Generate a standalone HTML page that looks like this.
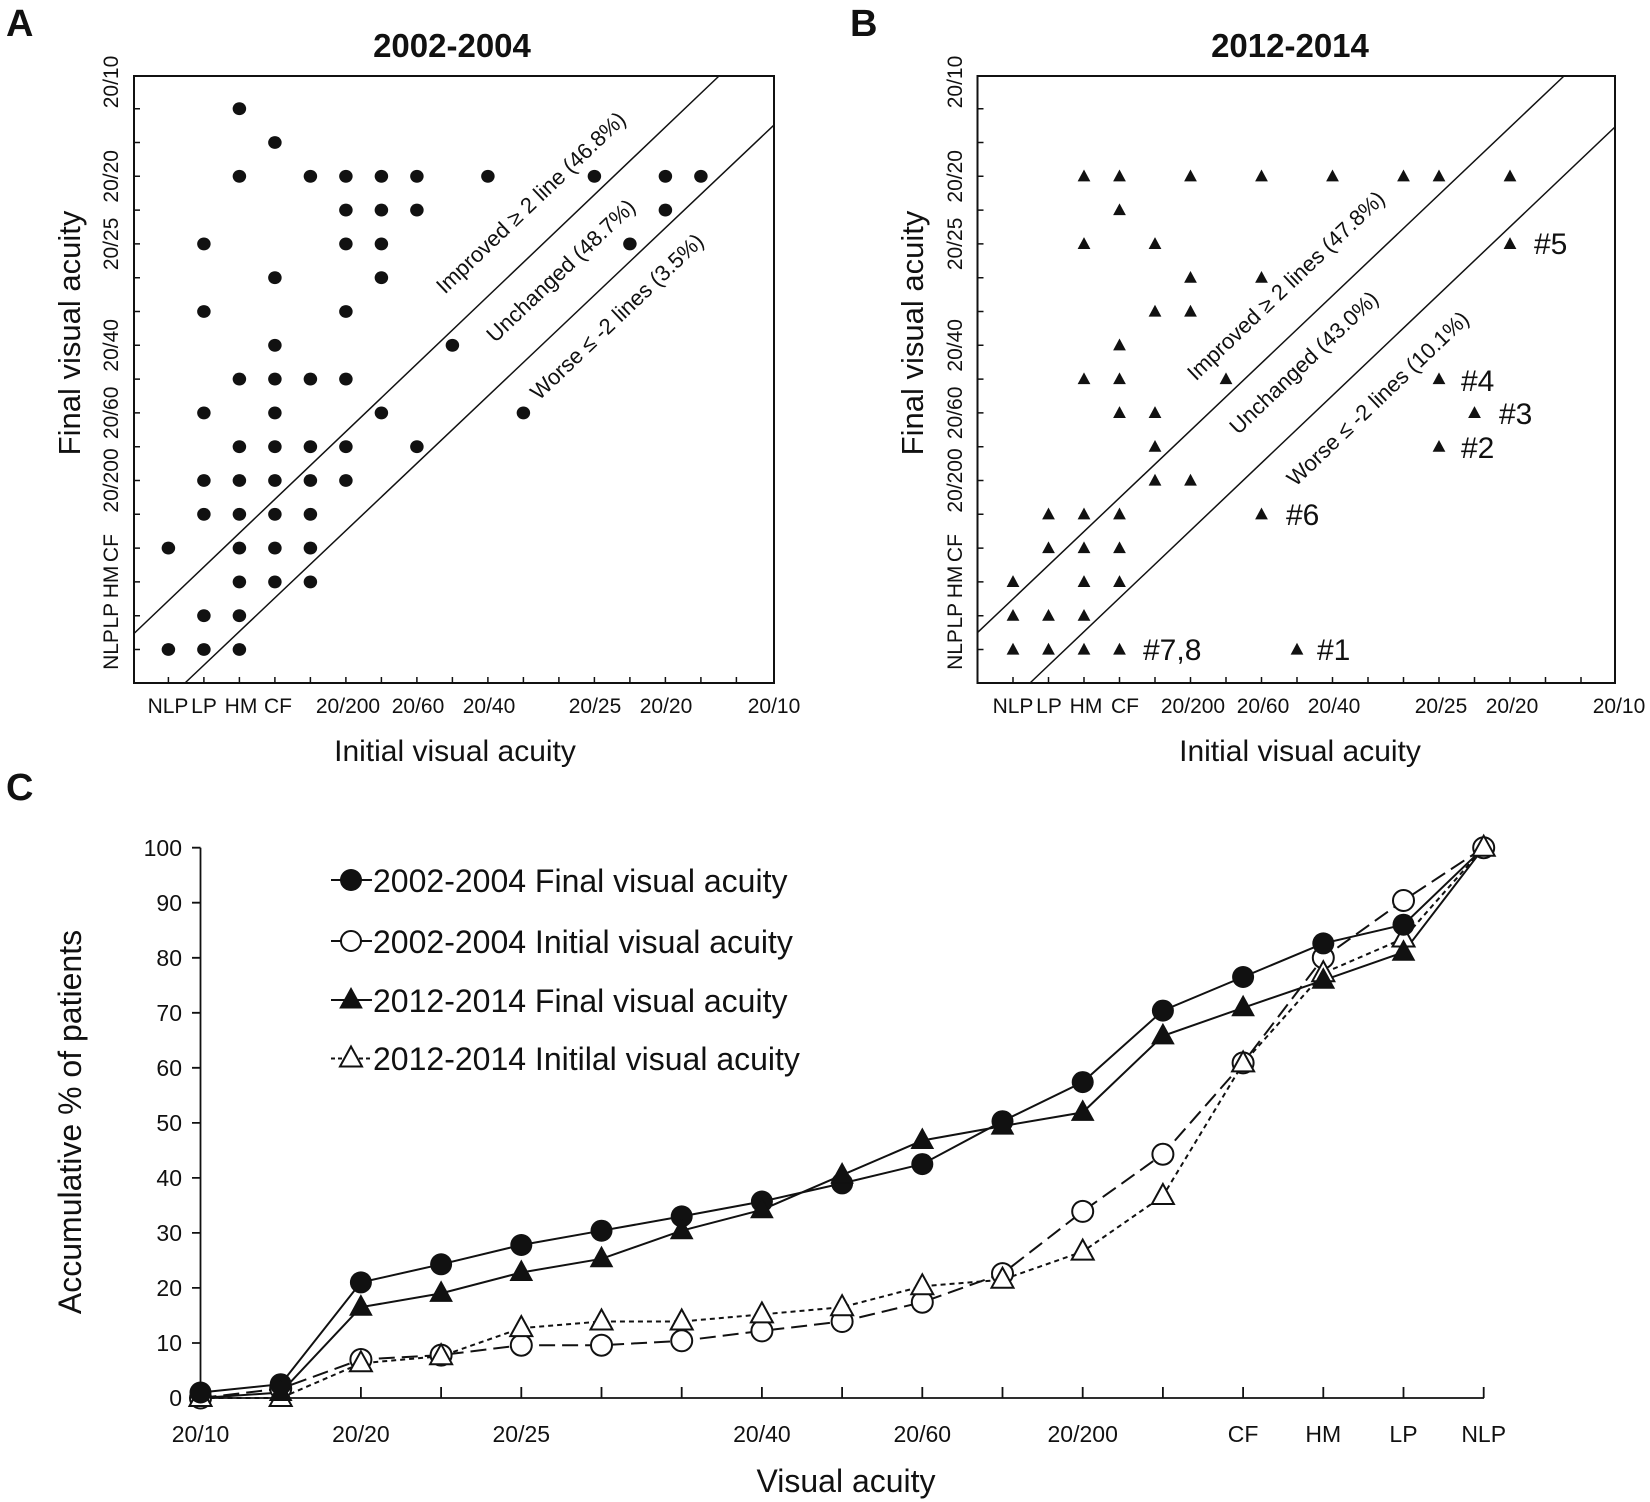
<!DOCTYPE html>
<html><head><meta charset="utf-8"><style>
html,body{margin:0;padding:0;background:#fff}
svg{display:block}
text{font-family:"Liberation Sans",Arial,sans-serif;fill:#111}
</style></head><body>
<svg width="1650" height="1502" viewBox="0 0 1650 1502" xmlns="http://www.w3.org/2000/svg">
<defs>
<polygon id="bt" points="0,0.2 0.18,-0.15 -0.18,-0.15" fill="#111"/>
<polygon id="CT" points="0,-12 11,8 -11,8"/>
</defs>

<!-- ===== Panel A ===== -->
<text x="6" y="36" font-size="38" font-weight="bold">A</text>
<text x="452" y="57" font-size="33" font-weight="bold" text-anchor="middle">2002-2004</text>
<rect x="134" y="76" width="640" height="607" fill="none" stroke="#111" stroke-width="2"/>
<g stroke="#111" stroke-width="1.5">
<path d="M134,649.5h6M134,615.7h6M134,581.9h6M134,548.1h6M134,514.3h6M134,480.5h6M134,446.7h6M134,412.9h6M134,379.1h6M134,345.3h6M134,311.5h6M134,277.7h6M134,243.9h6M134,210.1h6M134,176.3h6M134,142.5h6M134,108.7h6"/>
<path d="M168.4,683v-6M203.9,683v-6M239.4,683v-6M274.9,683v-6M310.4,683v-6M345.9,683v-6M381.4,683v-6M416.9,683v-6M452.4,683v-6M487.9,683v-6M523.4,683v-6M558.9,683v-6M594.4,683v-6M629.9,683v-6M665.4,683v-6M700.9,683v-6M736.4,683v-6"/>
<line x1="134" y1="633.5" x2="719" y2="76"/>
<line x1="185" y1="683" x2="774" y2="125"/>
</g>
<g transform="translate(168.4,649.5) scale(35.5,-33.8)" fill="#111">
<circle cx="2" cy="16" r="0.19"/><circle cx="3" cy="15" r="0.19"/>
<circle cx="2" cy="14" r="0.19"/><circle cx="4" cy="14" r="0.19"/><circle cx="5" cy="14" r="0.19"/><circle cx="6" cy="14" r="0.19"/><circle cx="7" cy="14" r="0.19"/><circle cx="9" cy="14" r="0.19"/><circle cx="12" cy="14" r="0.19"/><circle cx="14" cy="14" r="0.19"/><circle cx="15" cy="14" r="0.19"/>
<circle cx="5" cy="13" r="0.19"/><circle cx="6" cy="13" r="0.19"/><circle cx="7" cy="13" r="0.19"/><circle cx="14" cy="13" r="0.19"/>
<circle cx="1" cy="12" r="0.19"/><circle cx="5" cy="12" r="0.19"/><circle cx="6" cy="12" r="0.19"/><circle cx="13" cy="12" r="0.19"/>
<circle cx="3" cy="11" r="0.19"/><circle cx="6" cy="11" r="0.19"/>
<circle cx="1" cy="10" r="0.19"/><circle cx="5" cy="10" r="0.19"/>
<circle cx="3" cy="9" r="0.19"/><circle cx="8" cy="9" r="0.19"/>
<circle cx="2" cy="8" r="0.19"/><circle cx="3" cy="8" r="0.19"/><circle cx="4" cy="8" r="0.19"/><circle cx="5" cy="8" r="0.19"/>
<circle cx="1" cy="7" r="0.19"/><circle cx="3" cy="7" r="0.19"/><circle cx="6" cy="7" r="0.19"/><circle cx="10" cy="7" r="0.19"/>
<circle cx="2" cy="6" r="0.19"/><circle cx="3" cy="6" r="0.19"/><circle cx="4" cy="6" r="0.19"/><circle cx="5" cy="6" r="0.19"/><circle cx="7" cy="6" r="0.19"/>
<circle cx="1" cy="5" r="0.19"/><circle cx="2" cy="5" r="0.19"/><circle cx="3" cy="5" r="0.19"/><circle cx="4" cy="5" r="0.19"/><circle cx="5" cy="5" r="0.19"/>
<circle cx="1" cy="4" r="0.19"/><circle cx="2" cy="4" r="0.19"/><circle cx="3" cy="4" r="0.19"/><circle cx="4" cy="4" r="0.19"/>
<circle cx="0" cy="3" r="0.19"/><circle cx="2" cy="3" r="0.19"/><circle cx="3" cy="3" r="0.19"/><circle cx="4" cy="3" r="0.19"/>
<circle cx="2" cy="2" r="0.19"/><circle cx="3" cy="2" r="0.19"/><circle cx="4" cy="2" r="0.19"/>
<circle cx="1" cy="1" r="0.19"/><circle cx="2" cy="1" r="0.19"/>
<circle cx="0" cy="0" r="0.19"/><circle cx="1" cy="0" r="0.19"/><circle cx="2" cy="0" r="0.19"/>
</g>
<g font-size="21" text-anchor="middle">
<text x="168" y="713">NLP</text><text x="204" y="713">LP</text><text x="241" y="713">HM</text><text x="278" y="713">CF</text>
<text x="348" y="713">20/200</text><text x="418" y="713">20/60</text><text x="489" y="713">20/40</text><text x="595" y="713">20/25</text><text x="666" y="713">20/20</text><text x="774" y="713">20/10</text>
</g>
<g font-size="21" text-anchor="middle">
<text transform="translate(118,649.5) rotate(-90)">NLP</text>
<text transform="translate(118,615.7) rotate(-90)">LP</text>
<text transform="translate(118,581.9) rotate(-90)">HM</text>
<text transform="translate(118,548.1) rotate(-90)">CF</text>
<text transform="translate(118,480.5) rotate(-90)">20/200</text>
<text transform="translate(118,412.9) rotate(-90)">20/60</text>
<text transform="translate(118,345.3) rotate(-90)">20/40</text>
<text transform="translate(118,243.9) rotate(-90)">20/25</text>
<text transform="translate(118,176.3) rotate(-90)">20/20</text>
<text transform="translate(118,82) rotate(-90)">20/10</text>
</g>
<text transform="translate(80,333) rotate(-90)" font-size="31" text-anchor="middle">Final visual acuity</text>
<text x="455" y="761" font-size="30" text-anchor="middle">Initial visual acuity</text>
<g font-size="22" text-anchor="middle">
<text transform="translate(536,208) rotate(-43.6)">Improved ≥ 2 line (46.8%)</text>
<text transform="translate(566,276) rotate(-43.6)">Unchanged (48.7%)</text>
<text transform="translate(622,322) rotate(-43.6)">Worse ≤ -2 lines (3.5%)</text>
</g>

<!-- ===== Panel B ===== -->
<text x="850" y="36" font-size="38" font-weight="bold">B</text>
<text x="1290" y="57" font-size="33" font-weight="bold" text-anchor="middle">2012-2014</text>
<rect x="977.5" y="76" width="637.5" height="607" fill="none" stroke="#111" stroke-width="2"/>
<g stroke="#111" stroke-width="1.5">
<path d="M977.5,649.5h6M977.5,615.7h6M977.5,581.9h6M977.5,548.1h6M977.5,514.3h6M977.5,480.5h6M977.5,446.7h6M977.5,412.9h6M977.5,379.1h6M977.5,345.3h6M977.5,311.5h6M977.5,277.7h6M977.5,243.9h6M977.5,210.1h6M977.5,176.3h6M977.5,142.5h6M977.5,108.7h6"/>
<path d="M1013,683v-6M1048.5,683v-6M1084,683v-6M1119.5,683v-6M1155,683v-6M1190.5,683v-6M1226,683v-6M1261.5,683v-6M1297,683v-6M1332.5,683v-6M1368,683v-6M1403.5,683v-6M1439,683v-6M1474.5,683v-6M1510,683v-6M1545.5,683v-6M1581,683v-6"/>
<line x1="977.5" y1="632.6" x2="1564" y2="76"/>
<line x1="1030" y1="683" x2="1615" y2="127"/>
</g>
<g transform="translate(1013,649.5) scale(35.5,-33.8)">
<use href="#bt" x="2" y="14"/><use href="#bt" x="3" y="14"/><use href="#bt" x="5" y="14"/><use href="#bt" x="7" y="14"/><use href="#bt" x="9" y="14"/><use href="#bt" x="11" y="14"/><use href="#bt" x="12" y="14"/><use href="#bt" x="14" y="14"/>
<use href="#bt" x="3" y="13"/>
<use href="#bt" x="2" y="12"/><use href="#bt" x="4" y="12"/><use href="#bt" x="14" y="12"/>
<use href="#bt" x="5" y="11"/><use href="#bt" x="7" y="11"/>
<use href="#bt" x="4" y="10"/><use href="#bt" x="5" y="10"/>
<use href="#bt" x="3" y="9"/>
<use href="#bt" x="2" y="8"/><use href="#bt" x="3" y="8"/><use href="#bt" x="6" y="8"/><use href="#bt" x="12" y="8"/>
<use href="#bt" x="3" y="7"/><use href="#bt" x="4" y="7"/><use href="#bt" x="13" y="7"/>
<use href="#bt" x="4" y="6"/><use href="#bt" x="12" y="6"/>
<use href="#bt" x="4" y="5"/><use href="#bt" x="5" y="5"/>
<use href="#bt" x="1" y="4"/><use href="#bt" x="2" y="4"/><use href="#bt" x="3" y="4"/><use href="#bt" x="7" y="4"/>
<use href="#bt" x="1" y="3"/><use href="#bt" x="2" y="3"/><use href="#bt" x="3" y="3"/>
<use href="#bt" x="0" y="2"/><use href="#bt" x="2" y="2"/><use href="#bt" x="3" y="2"/>
<use href="#bt" x="0" y="1"/><use href="#bt" x="1" y="1"/><use href="#bt" x="2" y="1"/>
<use href="#bt" x="0" y="0"/><use href="#bt" x="1" y="0"/><use href="#bt" x="2" y="0"/><use href="#bt" x="3" y="0"/><use href="#bt" x="8" y="0"/>
</g>
<g font-size="30">
<text x="1534" y="254">#5</text>
<text x="1461" y="391">#4</text>
<text x="1499" y="424">#3</text>
<text x="1461" y="458">#2</text>
<text x="1286" y="525">#6</text>
<text x="1143" y="660">#7,8</text>
<text x="1317" y="660">#1</text>
</g>
<g font-size="21" text-anchor="middle">
<text x="1013" y="713">NLP</text><text x="1049" y="713">LP</text><text x="1086" y="713">HM</text><text x="1125" y="713">CF</text>
<text x="1193" y="713">20/200</text><text x="1263" y="713">20/60</text><text x="1334" y="713">20/40</text><text x="1441" y="713">20/25</text><text x="1512" y="713">20/20</text><text x="1619" y="713">20/10</text>
</g>
<g font-size="21" text-anchor="middle">
<text transform="translate(962,649.5) rotate(-90)">NLP</text>
<text transform="translate(962,615.7) rotate(-90)">LP</text>
<text transform="translate(962,581.9) rotate(-90)">HM</text>
<text transform="translate(962,548.1) rotate(-90)">CF</text>
<text transform="translate(962,480.5) rotate(-90)">20/200</text>
<text transform="translate(962,412.9) rotate(-90)">20/60</text>
<text transform="translate(962,345.3) rotate(-90)">20/40</text>
<text transform="translate(962,243.9) rotate(-90)">20/25</text>
<text transform="translate(962,176.3) rotate(-90)">20/20</text>
<text transform="translate(962,82) rotate(-90)">20/10</text>
</g>
<text transform="translate(923,333) rotate(-90)" font-size="31" text-anchor="middle">Final visual acuity</text>
<text x="1300" y="761" font-size="30" text-anchor="middle">Initial visual acuity</text>
<g font-size="22" text-anchor="middle">
<text transform="translate(1291,291) rotate(-43.6)">Improved ≥ 2 lines (47.8%)</text>
<text transform="translate(1309,368) rotate(-43.6)">Unchanged (43.0%)</text>
<text transform="translate(1383,404) rotate(-43.6)">Worse ≤ -2 lines (10.1%)</text>
</g>

<!-- ===== Panel C ===== -->
<text x="6" y="800" font-size="38" font-weight="bold">C</text>
<g stroke="#111" stroke-width="1.8" fill="none">
<line x1="200.5" y1="847.7" x2="200.5" y2="1398"/>
<line x1="200.5" y1="1398" x2="1484" y2="1398"/>
<path d="M192,847.7h8.5M192,902.7h8.5M192,957.8h8.5M192,1012.8h8.5M192,1067.8h8.5M192,1122.9h8.5M192,1177.9h8.5M192,1232.9h8.5M192,1287.9h8.5M192,1343h8.5M192,1398h8.5"/>
<path d="M280.7,1398v-11M360.9,1398v-11M441.1,1398v-11M521.3,1398v-11M601.5,1398v-11M681.7,1398v-11M761.9,1398v-11M842.1,1398v-11M922.3,1398v-11M1002.5,1398v-11M1082.7,1398v-11M1162.9,1398v-11M1243.1,1398v-11M1323.3,1398v-11M1403.5,1398v-11M1483.7,1398v-11"/>
</g>
<g font-size="23" text-anchor="end">
<text x="182" y="856">100</text><text x="182" y="911">90</text><text x="182" y="966">80</text><text x="182" y="1021">70</text><text x="182" y="1076">60</text><text x="182" y="1131">50</text><text x="182" y="1186">40</text><text x="182" y="1241">30</text><text x="182" y="1296">20</text><text x="182" y="1351">10</text><text x="182" y="1406">0</text>
</g>
<g font-size="23" text-anchor="middle">
<text x="200.5" y="1442">20/10</text><text x="360.9" y="1442">20/20</text><text x="521.3" y="1442">20/25</text><text x="761.9" y="1442">20/40</text><text x="922.3" y="1442">20/60</text><text x="1082.7" y="1442">20/200</text><text x="1243.1" y="1442">CF</text><text x="1323.3" y="1442">HM</text><text x="1403.5" y="1442">LP</text><text x="1483.7" y="1442">NLP</text>
</g>
<text transform="translate(81,1122) rotate(-90)" font-size="32" text-anchor="middle">Accumulative % of patients</text>
<text x="846" y="1492" font-size="32" text-anchor="middle">Visual acuity</text>

<g fill="none" stroke="#111" stroke-width="2">
<polyline points="200.5,1398 280.7,1388.6 360.9,1359.5 441.1,1355.1 521.3,1345.2 601.5,1345.2 681.7,1340.8 761.9,1330.9 842.1,1321.5 922.3,1302.2 1002.5,1273.6 1082.7,1211.4 1162.9,1154.2 1243.1,1062.9 1323.3,957.8 1403.5,900.5 1483.7,847.7" stroke-dasharray="16,7"/>
<polyline points="200.5,1398 280.7,1398 360.9,1363.3 441.1,1356.2 521.3,1328.1 601.5,1321.5 681.7,1321.5 761.9,1314.4 842.1,1307.2 922.3,1286.3 1002.5,1279.7 1082.7,1251.6 1162.9,1196 1243.1,1063.4 1323.3,973.2 1403.5,938.5 1483.7,847.7" stroke-dasharray="5,4"/>
<polyline points="200.5,1392.5 280.7,1384.2 360.9,1282.4 441.1,1264.3 521.3,1245 601.5,1230.7 681.7,1216.4 761.9,1201.5 842.1,1183.4 922.3,1164.1 1002.5,1121.2 1082.7,1082.1 1162.9,1010.6 1243.1,977 1323.3,943.4 1403.5,924.7 1483.7,847.7"/>
<polyline points="200.5,1398 280.7,1392.5 360.9,1307.2 441.1,1293.4 521.3,1272.5 601.5,1258.8 681.7,1230.7 761.9,1209.8 842.1,1175.1 922.3,1140.5 1002.5,1126.1 1082.7,1112.4 1162.9,1035.9 1243.1,1007.8 1323.3,980.3 1403.5,952.3 1483.7,847.7"/>
</g>
<g fill="#fff" stroke="#111" stroke-width="2">
<circle cx="200.5" cy="1398" r="10.5"/><circle cx="280.7" cy="1388.6" r="10.5"/><circle cx="360.9" cy="1359.5" r="10.5"/><circle cx="441.1" cy="1355.1" r="10.5"/><circle cx="521.3" cy="1345.2" r="10.5"/><circle cx="601.5" cy="1345.2" r="10.5"/><circle cx="681.7" cy="1340.8" r="10.5"/><circle cx="761.9" cy="1330.9" r="10.5"/><circle cx="842.1" cy="1321.5" r="10.5"/><circle cx="922.3" cy="1302.2" r="10.5"/><circle cx="1002.5" cy="1273.6" r="10.5"/><circle cx="1082.7" cy="1211.4" r="10.5"/><circle cx="1162.9" cy="1154.2" r="10.5"/><circle cx="1243.1" cy="1062.9" r="10.5"/><circle cx="1323.3" cy="957.8" r="10.5"/><circle cx="1403.5" cy="900.5" r="10.5"/><circle cx="1483.7" cy="847.7" r="10.5"/>
</g>
<g fill="#fff" stroke="#111" stroke-width="2">
<use href="#CT" x="200.5" y="1398"/><use href="#CT" x="280.7" y="1398"/><use href="#CT" x="360.9" y="1363.3"/><use href="#CT" x="441.1" y="1356.2"/><use href="#CT" x="521.3" y="1328.1"/><use href="#CT" x="601.5" y="1321.5"/><use href="#CT" x="681.7" y="1321.5"/><use href="#CT" x="761.9" y="1314.4"/><use href="#CT" x="842.1" y="1307.2"/><use href="#CT" x="922.3" y="1286.3"/><use href="#CT" x="1002.5" y="1279.7"/><use href="#CT" x="1082.7" y="1251.6"/><use href="#CT" x="1162.9" y="1196"/><use href="#CT" x="1243.1" y="1063.4"/><use href="#CT" x="1323.3" y="973.2"/><use href="#CT" x="1403.5" y="938.5"/><use href="#CT" x="1483.7" y="847.7"/>
</g>
<g fill="#111">
<circle cx="200.5" cy="1392.5" r="11"/><circle cx="280.7" cy="1384.2" r="11"/><circle cx="360.9" cy="1282.4" r="11"/><circle cx="441.1" cy="1264.3" r="11"/><circle cx="521.3" cy="1245" r="11"/><circle cx="601.5" cy="1230.7" r="11"/><circle cx="681.7" cy="1216.4" r="11"/><circle cx="761.9" cy="1201.5" r="11"/><circle cx="842.1" cy="1183.4" r="11"/><circle cx="922.3" cy="1164.1" r="11"/><circle cx="1002.5" cy="1121.2" r="11"/><circle cx="1082.7" cy="1082.1" r="11"/><circle cx="1162.9" cy="1010.6" r="11"/><circle cx="1243.1" cy="977" r="11"/><circle cx="1323.3" cy="943.4" r="11"/><circle cx="1403.5" cy="924.7" r="11"/>
</g>
<g fill="#111" stroke="#111" stroke-width="1">
<use href="#CT" x="280.7" y="1392.5"/><use href="#CT" x="360.9" y="1307.2"/><use href="#CT" x="441.1" y="1293.4"/><use href="#CT" x="521.3" y="1272.5"/><use href="#CT" x="601.5" y="1258.8"/><use href="#CT" x="681.7" y="1230.7"/><use href="#CT" x="761.9" y="1209.8"/><use href="#CT" x="842.1" y="1175.1"/><use href="#CT" x="922.3" y="1140.5"/><use href="#CT" x="1002.5" y="1126.1"/><use href="#CT" x="1082.7" y="1112.4"/><use href="#CT" x="1162.9" y="1035.9"/><use href="#CT" x="1243.1" y="1007.8"/><use href="#CT" x="1323.3" y="980.3"/><use href="#CT" x="1403.5" y="952.3"/>
</g>

<g stroke="#111" stroke-width="2">
<line x1="331" y1="880" x2="372" y2="880"/>
<line x1="331" y1="941" x2="372" y2="941"/>
<line x1="331" y1="1000" x2="372" y2="1000"/>
<line x1="331" y1="1058.5" x2="372" y2="1058.5" stroke-dasharray="4,3"/>
</g>
<circle cx="351" cy="880" r="11" fill="#111"/>
<circle cx="351" cy="941" r="10" fill="#fff" stroke="#111" stroke-width="2"/>
<use href="#CT" x="351" y="1000" fill="#111" stroke="#111"/>
<use href="#CT" x="351" y="1058.5" fill="#fff" stroke="#111" stroke-width="2"/>
<g font-size="32">
<text x="373" y="892">2002-2004 Final visual acuity</text>
<text x="373" y="953">2002-2004 Initial visual acuity</text>
<text x="373" y="1012">2012-2014 Final visual acuity</text>
<text x="373" y="1070">2012-2014 Initilal visual acuity</text>
</g>
</svg>
</body></html>
